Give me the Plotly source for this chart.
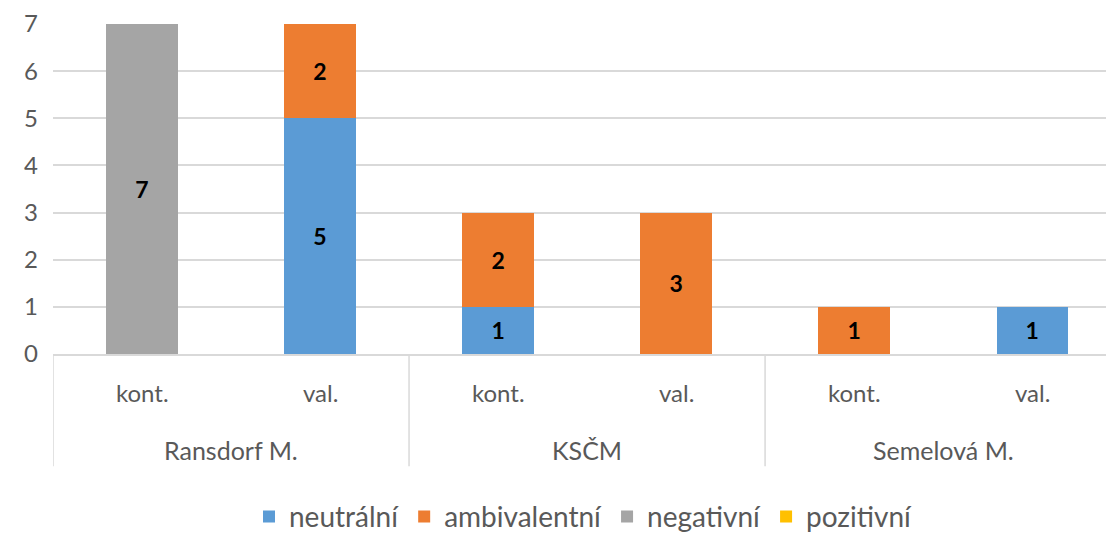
import plotly.graph_objects as go

# Data
skupiny = ['Ransdorf M.', 'KSČM', 'Semelová M.']
typy = ['kont.', 'val.']
neutralni = [None, 5, 1, None, None, 1]
ambivalentni = [None, 2, 2, 3, 1, None]
negativni = [7, None, None, None, None, None]
pozitivni = [None, None, None, None, None, None]

serie = [
    ('neutrální', neutralni, '#5B9BD5'),
    ('ambivalentní', ambivalentni, '#ED7D31'),
    ('negativní', negativni, '#A5A5A5'),
    ('pozitivní', pozitivni, '#FFC000'),
]

FONT = 'Lato, Calibri, sans-serif'
GRAY = '#595959'

x = list(range(len(skupiny) * len(typy)))

fig = go.Figure()
for nazev, hodnoty, barva in serie:
    fig.add_trace(go.Bar(
        x=x,
        y=hodnoty,
        name=nazev,
        marker=dict(color=barva, line=dict(width=0)),
        width=0.4,
        text=hodnoty,
        texttemplate='<b>%{text}</b>',
        textposition='inside',
        insidetextanchor='middle',
        textangle=0,
        textfont=dict(size=23, color='black', family=FONT),
    ))

# Popisky kategorií (dvě úrovně) a oddělovače
for i in x:
    fig.add_annotation(x=i, y=0, xref='x', yref='paper', yshift=-38, yanchor='middle',
                       text=typy[i % 2], showarrow=False,
                       font=dict(size=24, color=GRAY, family=FONT))
for g, nazev in enumerate(skupiny):
    fig.add_annotation(x=g * 2 + 0.5, y=0, xref='x', yref='paper', yshift=-96, yanchor='middle',
                       text=nazev, showarrow=False,
                       font=dict(size=25, color=GRAY, family=FONT))
for g in range(len(skupiny) + 1):
    fig.add_shape(type='line', xref='x', yref='paper',
                  x0=g * 2 - 0.5, x1=g * 2 - 0.5, y0=0, y1=-0.34,
                  line=dict(color='#D9D9D9', width=1.5))

# stránka má okraj 8 px; spodek obrázku se ořízne
fig.update_layout(
    barmode='stack',
    width=1106, height=545,
    margin=dict(l=45, r=0, t=16, b=199),
    paper_bgcolor='white',
    plot_bgcolor='white',
    font=dict(family=FONT, color=GRAY),
    showlegend=True,
    legend=dict(orientation='h', x=0.5, xanchor='center', y=-0.493, yanchor='middle',
                font=dict(size=28, color=GRAY, family=FONT),
                traceorder='normal', itemwidth=30),
)
# graf je vpravo oříznutý, poslední kategorie nemá celou šířku
fig.update_xaxes(range=[-0.5, 5.46], showticklabels=False, showgrid=False,
                 showline=True, linecolor='#D9D9D9', linewidth=1.5, zeroline=False)
fig.update_yaxes(range=[0, 7], dtick=1, showgrid=True, gridcolor='#D9D9D9', gridwidth=1.5,
                 zeroline=False, showline=False, ticks='', ticklabelstandoff=14,
                 tickfont=dict(size=24, color=GRAY, family=FONT))

fig.write_html('out.html')
